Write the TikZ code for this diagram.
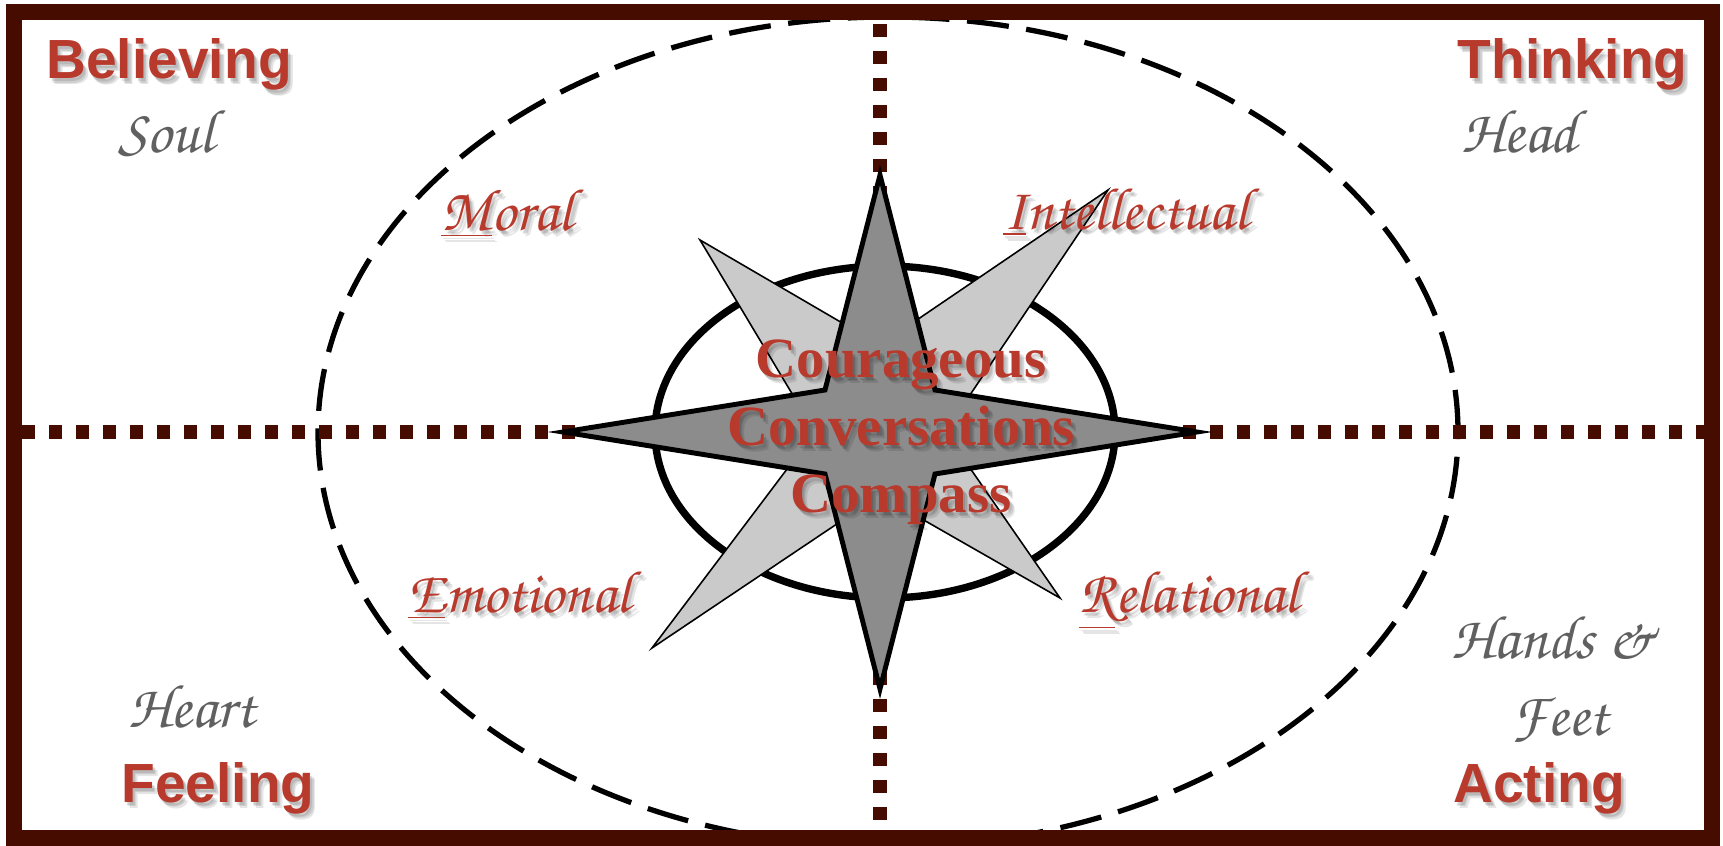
\documentclass[tikz,border=0pt]{standalone}
\usepackage[T1]{fontenc}
\usepackage{fontspec}
\setmainfont{Liberation Serif}
\setsansfont{Liberation Sans}

\definecolor{framebrown}{RGB}{70,12,0}
\definecolor{labelred}{RGB}{183,58,45}
\definecolor{handgray}{RGB}{96,96,96}
\definecolor{pointgray}{RGB}{140,140,140}
\definecolor{rosegray}{RGB}{202,202,202}

\newcommand{\handfont}{\fontencoding{T1}\fontfamily{pzc}\fontseries{m}\fontshape{it}\selectfont}

% text with a soft drop shadow: name, position, style, text
\newcommand{\castnode}[4]{%
    \foreach \sx/\sy in {0.02/-0.03, 0.035/-0.045, 0.05/-0.06}
        \node[#3, text=black, opacity=0.1, xshift=\sx cm, yshift=\sy cm] at (#2) {#4};
    \node[#3] (#1) at (#2) {#4};
}

\tikzset{
    quarter/.style={font=\sffamily\bfseries\fontsize{15.7}{18}\selectfont, text=labelred, inner sep=0pt, anchor=base west},
    realm/.style={font=\handfont\fontsize{17.5}{20}\selectfont, text=handgray, inner sep=0pt, anchor=base west},
    facet/.style={font=\handfont\fontsize{17}{20}\selectfont, text=labelred, inner sep=0pt, anchor=base west},
    motto/.style={font=\bfseries\fontsize{16.2}{19}\selectfont, text=labelred, inner sep=0pt, anchor=base},
    axis line/.style={framebrown, line width=3.84pt, dash pattern=on 3.84pt off 3.84pt},
}

\begin{document}
\begin{tikzpicture}[thick]
        \def\cx{8.80}
        \def\cy{4.13}

        \useasboundingbox (0,0) rectangle (17.23,8.45);
        \coordinate (C) at (\cx,\cy);

        % outer dashed ring
        \draw[dash pattern=on 12pt off 5pt, line width=1.5pt] (8.88,\cy) ellipse (5.70 and 4.15);

        % quadrant axes
        \draw[axis line] (\cx,8.21) -- (\cx,0.13);
        \draw[axis line] (0.22,\cy) -- (17.04,\cy);

        % inner ring
        \draw[line width=2.1pt] (8.85,\cy) ellipse (2.30 and 1.66);

        % diagonal points of the rose
        \filldraw[fill=rosegray, line width=0.45pt] (7.00,6.05) -- (\cx,5.00) -- (11.08,6.55) -- (9.45,\cy)
            -- (10.60,2.47) -- (\cx,3.50) -- (6.52,1.97) -- (8.15,\cy) -- cycle;

        % main points
        \filldraw[fill=pointgray, line width=1.4pt] (\cx,6.70) -- (9.35,4.55) -- (11.97,\cy) -- (9.35,3.71)
            -- (\cx,1.56) -- (8.25,3.71) -- (5.63,\cy) -- (8.25,4.55) -- cycle;

        % frame
        \draw[framebrown, line width=4.55pt] (0.14,0.07) rectangle (17.12,8.33);

        \castnode{believing}{0.45,7.66}{quarter}{Believing}
        \castnode{thinking}{16.89,7.66}{quarter, anchor=base east}{Thinking}
        \castnode{feeling}{1.20,0.43}{quarter}{Feeling}
        \castnode{acting}{14.52,0.43}{quarter}{Acting}

        \node[realm] (soul) at (1.17,6.93) {Soul};
        \node[realm] (head) at (14.60,6.93) {Head};
        \node[realm] (heart) at (1.27,1.18) {Heart};
        \node[realm] (hands) at (14.50,1.87) {Hands \&};
        \node[realm] (feet) at (15.10,1.10) {Feet};

        \castnode{moral}{4.40,6.15}{facet}{\underline{M}oral}
        \castnode{intellectual}{10.02,6.16}{facet}{\underline{I}ntellectual}
        \castnode{emotional}{4.07,2.33}{facet}{\underline{E}motional}
        \castnode{relational}{10.78,2.33}{facet}{\underline{R}elational}

        \castnode{courageous}{9.01,4.68}{motto}{Courageous}
        \castnode{conversations}{9.01,4.00}{motto}{Conversations}
        \castnode{compass}{9.01,3.33}{motto}{Compass}
    \end{tikzpicture}
\end{document}
